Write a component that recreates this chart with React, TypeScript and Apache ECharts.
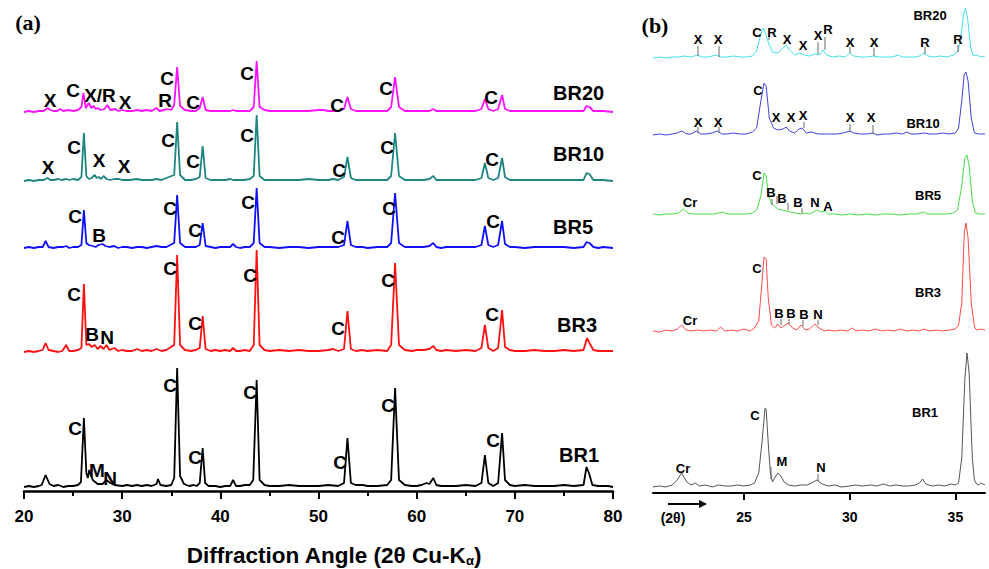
import React, { useEffect, useRef } from "react";
import * as echarts from "echarts";

// ---------- Panel (a): 2θ (deg) vs intensity above each pattern's baseline ----------
const BR1_A: [number, number][] = [[20,1],[20.5,2],[21,1],[21.5,2],[21.8,3],[22.2,13],[22.6,4],[23,2],[23.5,3],[24,1],[24.5,2],[25,2],[25.5,3],[25.8,6],[26.1,70],[26.35,15],[26.5,10],[26.65,18],[27,8],[27.5,4],[28,4],[28.4,8],[28.8,5],[29.2,3],[30,2],[30.5,3],[31,2],[31.5,3],[32,2],[32.5,3],[33,2],[33.5,4],[33.65,9],[33.9,3],[34.5,2],[35,3],[35.3,10],[35.6,120],[35.9,12],[36.3,4],[36.8,2],[37.3,3],[37.6,2],[37.9,5],[38.2,40],[38.45,5],[38.8,2],[39.5,2],[40,1],[40.5,2],[41,2],[41.3,8],[41.6,2],[42,2],[42.5,3],[43,3],[43.35,8],[43.7,108],[44,8],[44.5,3],[45,2],[46,2],[47,3],[48,2],[49,2],[50,2],[51,3],[52,2],[52.6,5],[52.95,50],[53.3,5],[53.8,3],[54.5,3],[55,2],[56,2],[57,3],[57.4,8],[57.8,100],[58.2,8],[58.8,3],[59.5,2],[60,2],[60.5,3],[61,5],[61.3,4],[61.7,10],[62,3],[62.5,2],[63,2],[64,2],[65,3],[66,2],[66.6,5],[66.95,33],[67.3,5],[67.8,2],[68.3,5],[68.7,55],[69,8],[69.5,3],[70,2],[71,3],[72,2],[73,2],[74,2],[75,3],[76,2],[77,3],[77.3,21],[77.55,15],[77.9,3],[78.5,2],[79,2],[79.5,2],[80,1]];
const BR3_A: [number, number][] = [[20,1],[20.5,2],[21,1],[21.5,2],[21.9,3],[22.2,10],[22.5,3],[23,2],[23.5,1],[23.9,2],[24.3,8],[24.6,2],[25,2],[25.5,3],[25.85,5],[26.1,69],[26.35,8],[26.6,9],[26.9,6],[27.2,8],[27.5,4],[27.8,7],[28.1,4],[28.4,8],[28.7,3],[29.2,5],[29.6,2],[30,3],[30.5,2],[31,2],[31.5,4],[32,2],[32.5,3],[33,2],[33.5,4],[34,2],[34.5,3],[35.3,8],[35.6,98],[35.9,8],[36.4,3],[37,2],[37.5,3],[37.9,5],[38.2,37],[38.5,4],[39,2],[39.5,3],[40,2],[40.5,3],[41,2],[41.3,5],[41.6,2],[42,2],[42.5,3],[43,2],[43.4,8],[43.7,103],[44,8],[44.5,3],[45,2],[46,3],[47,2],[48,3],[49,2],[50,2],[51,3],[51.5,4],[52,2],[52.6,4],[52.95,42],[53.3,4],[53.8,2],[54.5,3],[55,2],[56,3],[57,2],[57.4,8],[57.8,90],[58.2,8],[58.8,3],[59.5,2],[60,3],[60.7,3],[61.3,4],[61.7,7],[62,3],[62.5,2],[63,3],[64,2],[65,3],[66,2],[66.6,5],[66.95,28],[67.3,5],[67.8,2],[68.3,5],[68.7,43],[69,6],[69.5,3],[70,2],[71,2],[72,3],[73,2],[74,2],[75,3],[76,2],[77,3],[77.35,15],[77.6,10],[78,3],[78.5,2],[79,2],[80,2]];
const BR5_A: [number, number][] = [[20,1],[20.5,2],[21,1],[21.5,2],[21.9,2],[22.2,8],[22.5,2],[23,1],[23.5,2],[24,2],[24.3,3],[24.6,1],[25,2],[25.5,2],[25.85,4],[26.1,39],[26.35,6],[26.6,4],[27,3],[27.3,2],[27.6,4],[28,5],[28.3,3],[28.7,2],[29.2,3],[29.6,1],[30,2],[30.5,2],[31,1],[31.5,2],[32,2],[32.5,1],[33,2],[33.5,3],[34,2],[34.5,2],[35.3,6],[35.6,54],[35.9,6],[36.4,2],[37,2],[37.5,2],[37.9,4],[38.2,26],[38.5,3],[39,2],[39.5,1],[40,2],[40.5,2],[41,2],[41.3,5],[41.6,2],[42,1],[42.5,2],[43,2],[43.4,6],[43.7,61],[44,6],[44.5,2],[45,2],[46,1],[47,2],[48,2],[49,1],[50,2],[51,2],[52,2],[52.6,4],[52.95,28],[53.3,4],[53.8,2],[54.5,2],[55,1],[56,2],[57,2],[57.4,6],[57.8,56],[58.2,6],[58.8,2],[59.5,2],[60,2],[60.7,2],[61.3,3],[61.7,6],[62,2],[62.5,1],[63,2],[64,2],[65,2],[66,2],[66.6,4],[66.95,23],[67.3,4],[67.8,2],[68.3,4],[68.7,28],[69,5],[69.5,2],[70,2],[71,1],[72,2],[73,2],[74,2],[75,2],[76,1],[77,2],[77.3,7],[77.6,6],[78,2],[78.5,1],[79,2],[80,1]];
const BR10_A: [number, number][] = [[20,1],[20.5,2],[21,1],[21.5,2],[22,2],[22.4,4],[22.7,2],[23,2],[23.5,3],[23.8,2],[24.3,3],[24.6,2],[25,3],[25.5,2],[25.85,5],[26.1,49],[26.35,6],[26.6,3],[26.9,4],[27.2,7],[27.4,4],[27.6,5],[27.85,3],[28.1,6],[28.4,3],[28.8,2],[29.2,3],[29.7,3],[30,2],[30.3,2],[30.8,2],[31.5,3],[32,2],[32.5,2],[33,2],[33.5,3],[34,2],[34.5,4],[35.3,7],[35.6,60],[35.9,7],[36.4,2],[37,2],[37.5,3],[37.9,5],[38.2,36],[38.5,4],[39,2],[39.5,2],[40,2],[40.5,2],[41,3],[41.3,2],[41.6,2],[42,2],[42.5,2],[43,3],[43.4,6],[43.7,67],[44,6],[44.5,2],[45,2],[46,2],[47,2],[48,2],[49,3],[50,2],[51,2],[51.5,3],[52,2],[52.6,5],[52.95,25],[53.3,4],[53.8,2],[54.5,2],[55,2],[56,2],[57,2],[57.4,6],[57.8,49],[58.2,6],[58.8,2],[59.5,2],[60,2],[60.7,2],[61.3,3],[61.7,6],[62,2],[62.5,2],[63,2],[64,2],[65,2],[66,2],[66.6,4],[66.95,19],[67.3,4],[67.8,2],[68.3,4],[68.7,24],[69,5],[69.5,2],[70,2],[71,2],[72,2],[73,2],[74,2],[75,2],[76,2],[77,2],[77.3,9],[77.6,8],[78,2],[78.5,2],[79,2],[80,1]];
const BR20_A: [number, number][] = [[20,1],[20.5,2],[21,1],[21.5,2],[22,2],[22.4,5],[22.7,3],[23,2],[23.4,2],[23.7,4],[24,2],[24.5,3],[25,2],[25.5,3],[25.85,6],[26.05,20],[26.3,5],[26.6,10],[26.85,5],[27.1,7],[27.3,4],[27.5,5],[27.8,3],[28.2,4],[28.5,8],[28.8,3],[29.3,4],[29.6,2],[30,3],[30.4,2],[31,2],[31.5,3],[32,2],[32.5,3],[33,2],[33.5,5],[33.8,2],[34.3,3],[34.6,4],[35,3],[35.3,8],[35.6,46],[35.9,7],[36.4,3],[37,2],[37.5,2],[37.9,5],[38.2,16],[38.5,3],[39,2],[39.5,2],[40,2],[40.5,2],[41,2],[41.3,3],[41.6,2],[42,2],[42.5,2],[43,2],[43.4,6],[43.7,52],[44,6],[44.5,3],[45,2],[46,2],[47,2],[48,2],[49,2],[50,3],[50.5,3],[51,2],[52,2],[52.6,4],[52.95,16],[53.3,4],[53.8,2],[54.5,2],[55,2],[56,2],[57,2],[57.4,6],[57.8,36],[58.2,6],[58.8,2],[59.5,2],[60,2],[60.7,2],[61.3,2],[61.7,4],[62,2],[62.5,2],[63,2],[64,2],[65,2],[66,2],[66.6,4],[66.95,14],[67.3,4],[67.8,2],[68.3,4],[68.7,18],[69,4],[69.5,2],[70,2],[71,2],[72,2],[73,2],[74,2],[75,2],[76,2],[77,2],[77.3,7],[77.6,6],[78,2],[78.5,2],[79,2],[80,1]];

// ---------- Panel (b): zoom 20.7–36.4° ----------
const BR1_B: [number, number][] = [[20.7,1],[21,2],[21.3,1],[21.6,3],[21.85,8],[22.05,15],[22.3,6],[22.5,3],[22.7,5],[22.9,2],[23.2,3],[23.5,1],[23.8,3],[24.1,2],[24.4,2],[24.7,3],[25,2],[25.3,3],[25.5,5],[25.7,15],[25.85,45],[26,80],[26.05,79],[26.15,45],[26.25,15],[26.35,6],[26.45,10],[26.6,15],[26.75,12],[26.9,6],[27.1,3],[27.4,2],[27.7,3],[28,3],[28.2,5],[28.45,8],[28.7,4],[29,2],[29.3,3],[29.6,1],[30,2],[30.3,3],[30.6,2],[31,3],[31.3,2],[31.6,4],[31.9,2],[32.2,3],[32.5,2],[32.8,2],[33.1,3],[33.3,5],[33.45,9],[33.6,4],[33.9,2],[34.2,3],[34.5,2],[34.8,4],[35,3],[35.15,5],[35.3,30],[35.45,110],[35.55,135],[35.65,115],[35.8,30],[35.9,8],[36,4],[36.1,3],[36.2,5],[36.4,3]];
const BR3_B: [number, number][] = [[20.7,2],[21,1],[21.3,3],[21.6,2],[21.85,4],[22.05,8],[22.25,3],[22.5,2],[22.8,3],[23.1,2],[23.4,3],[23.7,2],[23.9,6],[24.1,2],[24.4,3],[24.7,2],[25,4],[25.3,2],[25.5,5],[25.7,12],[25.85,50],[25.95,76],[26.05,74],[26.15,35],[26.3,8],[26.45,5],[26.6,9],[26.75,5],[26.95,8],[27.1,10],[27.3,5],[27.5,3],[27.7,8],[27.9,3],[28.1,4],[28.35,9],[28.55,5],[28.8,2],[29,3],[29.3,2],[29.6,3],[29.9,2],[30.1,5],[30.3,2],[30.6,3],[30.9,2],[31.2,4],[31.5,2],[31.8,3],[32.1,2],[32.4,4],[32.7,2],[33,3],[33.3,2],[33.5,4],[33.8,2],[34.1,3],[34.4,2],[34.7,3],[35,4],[35.15,8],[35.3,30],[35.42,100],[35.5,110],[35.6,95],[35.75,30],[35.9,6],[36,3],[36.2,4],[36.4,3]];
const BR5_B: [number, number][] = [[20.7,2],[21,1],[21.3,2],[21.6,2],[21.9,3],[22.15,7],[22.35,3],[22.6,2],[22.9,2],[23.2,2],[23.6,2],[24,4],[24.2,2],[24.5,2],[24.8,2],[25.1,2],[25.4,3],[25.6,6],[25.8,20],[25.95,43],[26.05,40],[26.15,22],[26.3,12],[26.45,10],[26.6,7],[26.8,6],[27,5],[27.2,4],[27.4,3],[27.7,2],[27.9,3],[28.1,2],[28.3,4],[28.45,6],[28.65,4],[28.85,5],[29,2],[29.3,2],[29.6,1],[30,2],[30.4,1],[30.8,2],[31.2,1],[31.6,2],[32,2],[32.4,1],[32.8,2],[33.2,2],[33.5,4],[33.7,2],[34,2],[34.3,2],[34.6,2],[34.9,3],[35.1,6],[35.3,30],[35.45,58],[35.55,61],[35.65,50],[35.8,15],[35.95,3],[36.1,2],[36.4,2]];
const BR10_B: [number, number][] = [[20.7,1],[21,2],[21.3,1],[21.6,2],[21.85,3],[22.05,5],[22.3,2],[22.5,2],[22.75,5],[22.95,2],[23.2,2],[23.5,3],[23.75,5],[23.95,2],[24.2,2],[24.5,3],[24.8,2],[25.1,2],[25.4,4],[25.6,8],[25.8,35],[25.95,53],[26.05,50],[26.2,18],[26.4,8],[26.6,6],[26.85,7],[27,9],[27.15,5],[27.4,3],[27.6,7],[27.75,8],[27.95,3],[28.2,4],[28.5,2],[28.8,2],[29.1,2],[29.4,2],[29.7,3],[30,5],[30.2,3],[30.5,2],[30.8,2],[31.1,3],[31.3,1],[31.6,2],[31.9,2],[32.2,3],[32.5,2],[32.7,4],[32.9,2],[33.2,2],[33.5,3],[33.8,2],[34.1,2],[34.4,3],[34.7,2],[35,3],[35.15,8],[35.3,35],[35.42,62],[35.5,64],[35.6,55],[35.75,18],[35.9,3],[36.1,2],[36.4,2]];
const BR20_B: [number, number][] = [[20.7,1],[21,2],[21.3,1],[21.6,2],[21.9,2],[22.2,3],[22.5,2],[22.8,4],[23,2],[23.3,2],[23.7,4],[23.9,2],[24.2,2],[24.5,3],[24.8,2],[25.1,2],[25.4,3],[25.6,8],[25.8,25],[25.92,31],[26,27],[26.1,20],[26.2,14],[26.35,7],[26.6,6],[26.85,11],[27,14],[27.15,9],[27.4,4],[27.65,6],[27.85,4],[28.1,3],[28.35,5],[28.55,4],[28.75,9],[28.9,4],[29.2,2],[29.5,3],[29.8,2],[30,6],[30.2,3],[30.5,2],[30.8,2],[31.1,3],[31.4,2],[31.7,2],[32,2],[32.3,4],[32.5,2],[32.8,2],[33.1,2],[33.3,3],[33.5,6],[33.7,3],[34,2],[34.3,3],[34.6,2],[34.9,4],[35.1,7],[35.25,20],[35.38,45],[35.48,51],[35.58,40],[35.72,12],[35.85,3],[36,4],[36.2,2],[36.4,3]];

const TICKS_A = [20, 30, 40, 50, 60, 70, 80];
const TICKS_B = [25, 30, 35];
const NAMES = ["BR1", "BR3", "BR5", "BR10", "BR20"];

const SANS = "Liberation Sans, Arial, sans-serif";
const SERIF = "Liberation Serif, Times New Roman, serif";

function txt(x: number, y: number, text: string, size: number, align = "center", family = SANS) {
  return {
    type: "text",
    x,
    y,
    z: 10,
    style: {
      text,
      fontSize: size,
      fontWeight: "bold",
      fontFamily: family,
      fill: "#000",
      align,
      verticalAlign: "middle",
      textAlign: align,
      textVerticalAlign: "middle",
    },
  };
}
function vline(x: number, y1: number, y2: number) {
  return { type: "line", z: 9, shape: { x1: x, y1, x2: x, y2 }, style: { stroke: "#666", lineWidth: 1 } };
}

export default function App() {
  const ref = useRef<HTMLDivElement>(null);
  useEffect(() => {
    if (!ref.current) return;
    const chart = echarts.init(ref.current, undefined, { renderer: "svg" });

    const aSets = [BR1_A, BR3_A, BR5_A, BR10_A, BR20_A];
    const aOff = [3, 138, 242, 309, 378];
    const aCol = ["#000000", "#ff1010", "#1010ff", "#1e8580", "#ff10ff"];
    const bSets = [BR1_B, BR3_B, BR5_B, BR10_B, BR20_B];
    const bOff = [5, 160, 277, 357, 434];
    const bCol = ["#555555", "#ff4a4a", "#44e044", "#4040e6", "#40e0ea"];

    const series: any[] = [];
    aSets.forEach((d, i) =>
      series.push({
        name: NAMES[i] + " (a)",
        type: "line",
        xAxisIndex: 0,
        yAxisIndex: 0,
        symbol: "none",
        data: d.map(([x, h]) => [x, h + aOff[i]]),
        lineStyle: { color: aCol[i], width: 1.8 },
        itemStyle: { color: aCol[i] },
      })
    );
    bSets.forEach((d, i) =>
      series.push({
        name: NAMES[i] + " (b)",
        type: "line",
        xAxisIndex: 1,
        yAxisIndex: 1,
        symbol: "none",
        data: d.map(([x, h]) => [x, h + bOff[i]]),
        lineStyle: { color: bCol[i], width: 1 },
        itemStyle: { color: bCol[i] },
      })
    );

    const L = 19;
    const S = 13;
    const graphics: any[] = [
      txt(28, 22, "(a)", 22, "center", SERIF),
      txt(655, 25, "(b)", 22, "center", SERIF),
      // panel (a) BR20
      txt(50, 100, "X", L), txt(73, 90, "C", L), txt(100, 95, "X/R", L), txt(125, 102, "X", L),
      txt(167, 78, "C", L), txt(165, 100, "R", L), txt(193, 102, "C", L), txt(247, 73, "C", L),
      txt(337, 105, "C", L), txt(386, 88, "C", L), txt(491, 97, "C", L), txt(553, 93, "BR20", 20, "left"),
      // BR10
      txt(48, 167, "X", L), txt(74, 147, "C", L), txt(99, 160, "X", L), txt(124, 166, "X", L),
      txt(168, 140, "C", L), txt(193, 161, "C", L), txt(247, 135, "C", L), txt(339, 170, "C", L),
      txt(387, 147, "C", L), txt(492, 159, "C", L), txt(553, 154, "BR10", 20, "left"),
      // BR5
      txt(75, 216, "C", L), txt(99, 235, "B", L), txt(170, 208, "C", L), txt(195, 230, "C", L),
      txt(248, 202, "C", L), txt(338, 237, "C", L), txt(389, 208, "C", L), txt(493, 221, "C", L),
      txt(553, 227, "BR5", 20, "left"),
      // BR3
      txt(74, 294, "C", L), txt(92, 334, "B", L), txt(107, 337, "N", L), txt(170, 268, "C", L),
      txt(195, 323, "C", L), txt(250, 275, "C", L), txt(338, 328, "C", L), txt(388, 280, "C", L),
      txt(492, 314, "C", L), txt(557, 325, "BR3", 20, "left"),
      // BR1
      txt(75, 428, "C", L), txt(97, 470, "M", L), txt(110, 478, "N", L), txt(170, 385, "C", L),
      txt(195, 457, "C", L), txt(250, 392, "C", L), txt(340, 462, "C", L), txt(388, 405, "C", L),
      txt(493, 440, "C", L), txt(559, 455, "BR1", 20, "left"),
      // axis title (a)
      {
        type: "text",
        x: 334,
        y: 555,
        style: {
          text: "{m|Diffraction Angle (2θ Cu-K}{s|α}{m|)}",
          align: "center",
          verticalAlign: "middle",
          textAlign: "center",
          textVerticalAlign: "middle",
          rich: {
            m: { fontSize: 22.5, fontWeight: "bold", fontFamily: SANS, fill: "#000" },
            s: { fontSize: 13, fontWeight: "bold", fontFamily: SANS, fill: "#000", verticalAlign: "bottom" },
          },
        },
      },
      // panel (b) BR20
      txt(930, 15, "BR20", S), txt(698, 39, "X", S), txt(718, 39, "X", S), txt(757, 32, "C", S),
      txt(772, 32, "R", S), txt(787, 39, "X", S), txt(803, 45, "X", S), txt(818, 35, "X", S),
      txt(828, 29, "R", S), txt(850, 42, "X", S), txt(874, 42, "X", S), txt(925, 42, "R", S), txt(958, 39, "R", S),
      vline(698, 46, 56), vline(719, 46, 57), vline(769, 36, 40), vline(818, 42, 54), vline(825, 37, 50),
      vline(850, 47, 53), vline(874, 48, 56), vline(925, 47, 54), vline(958, 45, 52),
      // BR10
      txt(758, 90, "C", S), txt(698, 122, "X", S), txt(718, 122, "X", S), txt(776, 117, "X", S),
      txt(791, 117, "X", S), txt(803, 115, "X", S), txt(850, 117, "X", S), txt(871, 117, "X", S),
      txt(923, 123, "BR10", S),
      vline(698, 127, 133), vline(719, 127, 133), vline(804, 122, 128), vline(850, 124, 132), vline(873, 125, 134),
      // BR5
      txt(757, 175, "C", S), txt(690, 202, "Cr", S), txt(771, 192, "B", S), txt(782, 198, "B", S),
      txt(798, 202, "B", S), txt(815, 202, "N", S), txt(828, 206, "A", S), txt(928, 195, "BR5", S),
      vline(772, 199, 205), vline(777, 196, 204), vline(788, 203, 210), vline(802, 208, 213),
      // BR3
      txt(757, 268, "C", S), txt(690, 320, "Cr", S), txt(779, 313, "B", S), txt(791, 313, "B", S),
      txt(804, 314, "B", S), txt(818, 314, "N", S), txt(928, 292, "BR3", S),
      vline(781, 319, 325), vline(789, 319, 324), vline(803, 320, 326), vline(818, 320, 325),
      // BR1
      txt(755, 415, "C", S), txt(683, 468, "Cr", S), txt(782, 461, "M", S), txt(821, 467, "N", S),
      txt(925, 412, "BR1", S),
      vline(771, 467, 479), vline(818, 474, 481),
      // (2θ) arrow
      txt(673, 518, "(2θ)", 14),
      { type: "line", shape: { x1: 668, y1: 504, x2: 701, y2: 504 }, style: { stroke: "#000", lineWidth: 2 } },
      { type: "polygon", shape: { points: [[699, 500], [707, 504], [699, 508]] }, style: { fill: "#000" } },
    ];

    chart.setOption({
      animation: false,
      backgroundColor: "#fff",
      grid: [
        { left: 24, right: 376, top: 40, bottom: 78 },
        { left: 653, right: 4, top: 2, bottom: 76 },
      ],
      xAxis: [
        {
          gridIndex: 0,
          type: "value",
          min: 20,
          max: 80,
          interval: 10,
          axisLine: { lineStyle: { color: "#000", width: 2.5 } },
          axisTick: { length: 8, lineStyle: { color: "#000", width: 2 }, customValues: TICKS_A },
          minorTick: { show: true, splitNumber: 2, length: 5, lineStyle: { color: "#000", width: 2 } },
          splitLine: { show: false },
          axisLabel: { fontSize: 17, fontWeight: "bold", color: "#000", margin: 17, fontFamily: SANS, customValues: TICKS_A },
        },
        {
          gridIndex: 1,
          type: "value",
          min: 20.7,
          max: 36.4,
          axisLine: { lineStyle: { color: "#000", width: 2 } },
          axisTick: { length: 7, lineStyle: { color: "#000", width: 2 }, customValues: TICKS_B },
          splitLine: { show: false },
          axisLabel: { fontSize: 14, fontWeight: "bold", color: "#000", margin: 17, fontFamily: SANS, customValues: TICKS_B },
        },
      ],
      yAxis: [
        { gridIndex: 0, type: "value", min: 0, max: 451, show: false },
        { gridIndex: 1, type: "value", min: 0, max: 491, show: false },
      ],
      series,
      graphic: graphics,
    });
    return () => chart.dispose();
  }, []);
  return <div ref={ref} style={{ position: "fixed", left: 0, top: 0, width: 989, height: 569, background: "#fff" }} />;
}
